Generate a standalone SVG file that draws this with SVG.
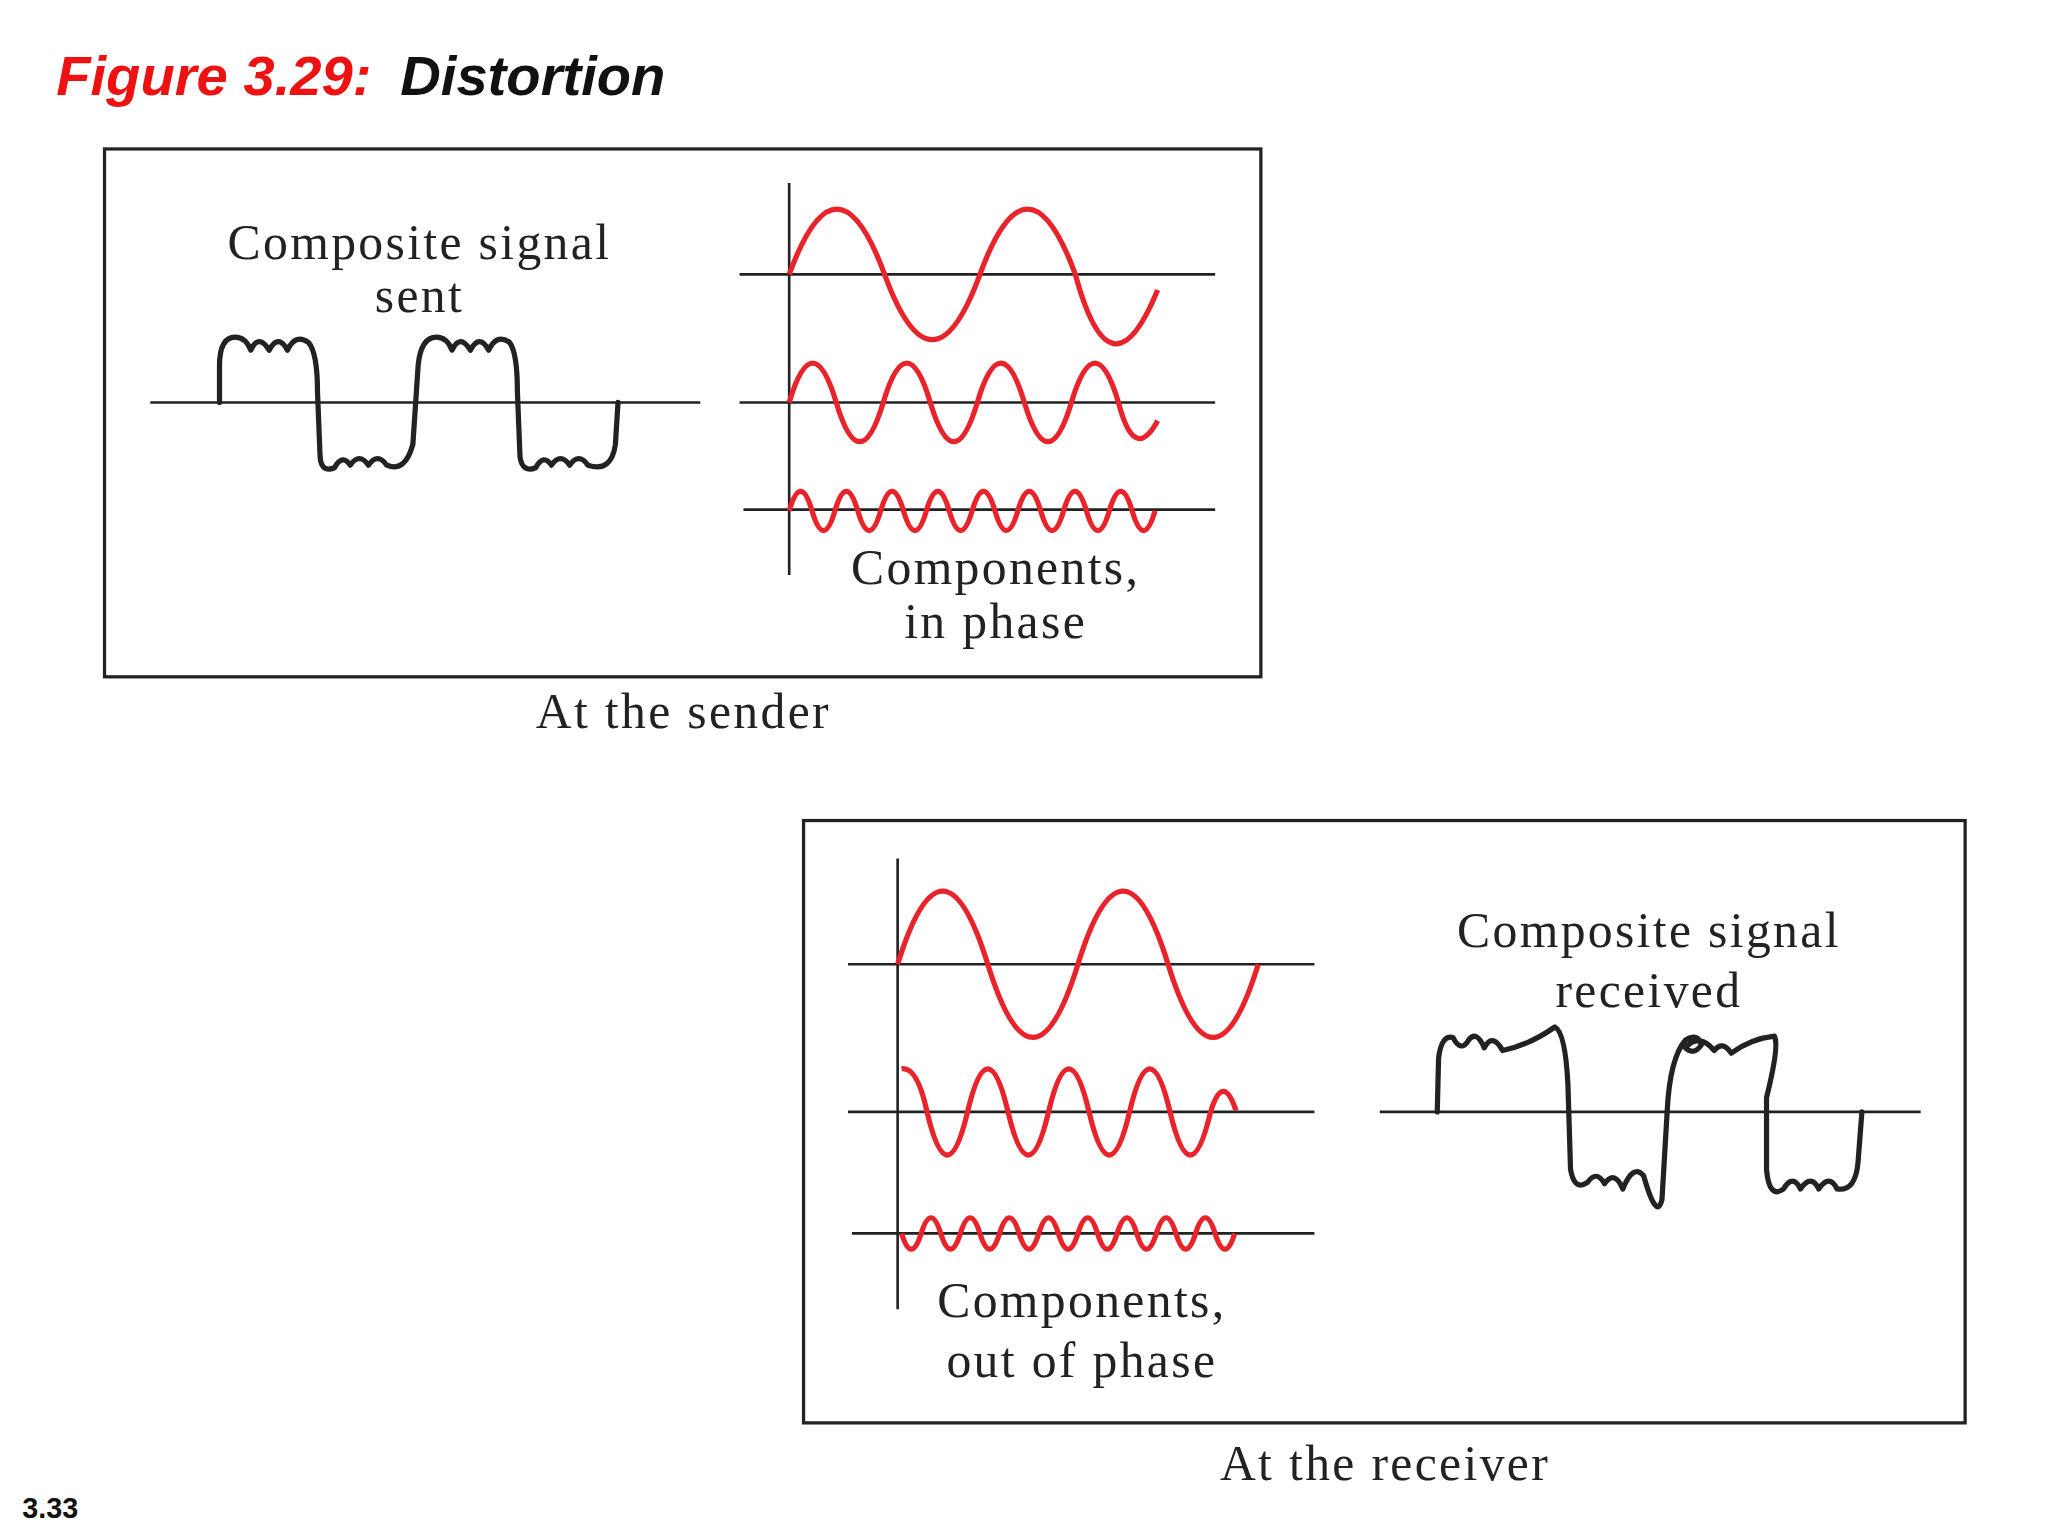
<svg xmlns="http://www.w3.org/2000/svg" width="2048" height="1536" viewBox="0 0 2048 1536">
<style>
.box{fill:none;stroke:#222;stroke-width:2.5}
.ax{stroke:#222;stroke-width:2;fill:none}
.red{stroke:#e8232a;stroke-width:4;fill:none;stroke-linejoin:round}
.blk{stroke:#222;stroke-width:4;fill:none;stroke-linejoin:round;stroke-linecap:round}
.t{font-family:"Liberation Serif",serif;font-size:38px;letter-spacing:1.8px;fill:#222;text-anchor:middle}
</style>
<rect width="2048" height="1536" fill="#fff"/>
<g transform="scale(1.3066)">
<g id="title"><text x="43" y="73" font-family="Liberation Sans,Arial,sans-serif" font-weight="bold" font-style="italic" font-size="43"><tspan fill="#ee1111">Figure 3.29:</tspan><tspan fill="#111" dx="22">Distortion</tspan></text></g>
<g id="sender">
<rect class="box" x="80" y="114" width="885" height="404"/>
<text class="t" x="321" y="198">Composite signal</text>
<text class="t" x="321" y="239">sent</text>
<line class="ax" x1="115" y1="308" x2="536" y2="308"/>
<path class="blk" d="M168 308 L168 280 Q168 258 180 258 Q188 258 192 268 Q198 255 206 268 Q213 255 220 268 Q226 255 236 262 Q243 270 243 300 L245 350 Q246 362 256 358 Q262 347 268 356 Q275 346 282 356 Q289 346 296 356 Q310 362 316 340 L320 280 Q322 258 334 258 Q342 258 346 268 Q352 255 360 268 Q367 255 374 268 Q380 255 390 262 Q396 270 396 300 L398 350 Q400 362 410 358 Q416 347 422 356 Q429 346 436 356 Q443 346 450 356 Q468 362 471 340 L473 308"/>
<line class="ax" x1="604" y1="140" x2="604" y2="440"/>
<line class="ax" x1="566" y1="210" x2="930" y2="210"/>
<line class="ax" x1="566" y1="308" x2="930" y2="308"/>
<line class="ax" x1="569" y1="390" x2="930" y2="390"/>
<path class="red" d="M604 210 q36.5 -100 73 0 t73 0 t73 0 Q850 310 886 222"/>
<path class="red" d="M604 308 q18 -60 36 0 t36 0 t36 0 t36 0 t36 0 t36 0 t36 0 Q868 355 886 322"/>
<path class="red" d="M604 391 q8.75 -30 17.5 0 t17.5 0 t17.5 0 t17.5 0 t17.5 0 t17.5 0 t17.5 0 t17.5 0 t17.5 0 t17.5 0 t17.5 0 t17.5 0 t17.5 0 t17.5 0 t17.5 0 t17.5 0"/>
<text class="t" x="762" y="447">Components,</text>
<text class="t" x="762" y="488">in phase</text>
<text class="t" x="523" y="557">At the sender</text>
</g>
<g id="receiver">
<rect class="box" x="615" y="628" width="889" height="461"/>
<line class="ax" x1="687" y1="657" x2="687" y2="1002"/>
<line class="ax" x1="649" y1="738" x2="1006" y2="738"/>
<line class="ax" x1="649" y1="851" x2="1006" y2="851"/>
<line class="ax" x1="652" y1="944" x2="1006" y2="944"/>
<path class="red" d="M687 738 q34.5 -112 69 0 t69 0 t69 0 t69 0"/>
<path class="red" d="M690 818 Q702 816 709.5 851 q15.5 66 31 0 t31 0 t31 0 t31 0 t31 0 t31 0 t31 0 Q936 820 946 850"/>
<path class="red" d="M690 944 q7.5 24 15 0 q7.5 -24 15 0 t15 0 t15 0 t15 0 t15 0 t15 0 t15 0 t15 0 t15 0 t15 0 t15 0 t15 0 t15 0 t15 0 t15 0 t15 0"/>
<text class="t" x="828" y="1008">Components,</text>
<text class="t" x="828" y="1054">out of phase</text>
<text class="t" x="1262" y="725">Composite signal</text>
<text class="t" x="1262" y="771">received</text>
<line class="ax" x1="1056" y1="851" x2="1470" y2="851"/>
<path class="blk" d="M1100 851 L1101 810 Q1103 792 1112 794 Q1118 806 1124 796 Q1130 788 1136 802 Q1142 790 1150 804 Q1170 800 1190 786 Q1198 790 1200 830 L1202 895 Q1205 912 1215 905 Q1222 895 1228 906 Q1236 895 1242 910 Q1250 890 1258 900 Q1268 935 1272 918 L1276 850 Q1278 810 1290 796 Q1300 790 1302 800 Q1296 808 1290 802 Q1300 790 1312 804 Q1318 796 1325 806 Q1340 795 1358 793 Q1362 800 1352 840 L1352 895 Q1354 918 1365 910 Q1372 898 1378 910 Q1386 898 1392 910 Q1400 898 1406 910 Q1420 912 1422 890 L1425 851"/>
<text class="t" x="1060" y="1133">At the receiver</text>
</g>
<g id="page"><text x="17" y="1162" font-family="Liberation Sans,Arial,sans-serif" font-weight="bold" font-size="22" fill="#111">3.33</text></g>
</g>
</svg>
